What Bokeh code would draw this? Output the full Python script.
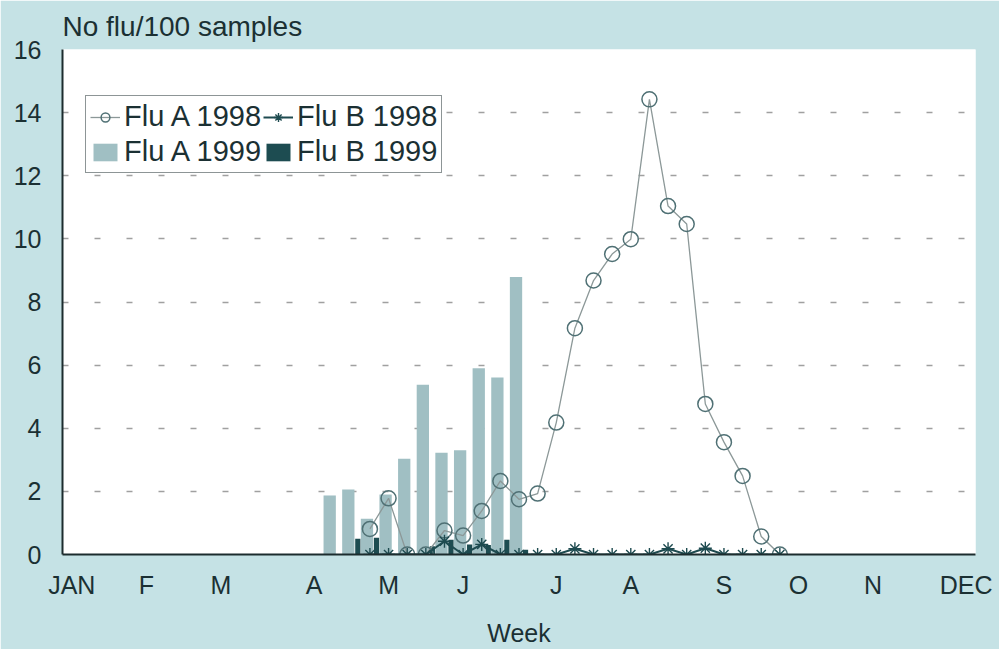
from bokeh.plotting import figure
from bokeh.models import Range1d, FixedTicker, Legend, LegendItem, ColumnDataSource
from bokeh.transform import dodge
from bokeh.embed import file_html
from bokeh.resources import INLINE

# ---- data (week index 0 = first week of January) ----
month_labels = ["JAN", "F", "M", "A", "M", "J", "J", "A", "S", "O", "N", "DEC"]
month_weeks = [0, 4, 8, 13, 17, 21, 26, 30, 35, 39, 43, 48]
n_weeks = 49

weeks_1998 = [16, 17, 18, 19, 20, 21, 22, 23, 24, 25, 26, 27, 28, 29, 30, 31,
              32, 33, 34, 35, 36, 37, 38]
flu_a_1998 = [0.81, 1.78, 0.0, 0.0, 0.76, 0.6, 1.38, 2.33, 1.75, 1.93, 4.18,
              7.17, 8.68, 9.52, 9.99, 14.42, 11.04, 10.47, 4.77, 3.56, 2.49,
              0.57, 0.0]
flu_b_1998 = [0.0, 0.0, 0.0, 0.0, 0.42, 0.0, 0.32, 0.0, 0.0, 0.0, 0.0, 0.18,
              0.0, 0.0, 0.0, 0.0, 0.18, 0.0, 0.2, 0.0, 0.0, 0.0, 0.0]

weeks_1999 = [14, 15, 16, 17, 18, 19, 20, 21, 22, 23, 24]
flu_a_1999 = [1.87, 2.06, 1.13, 1.9, 3.03, 5.38, 3.22, 3.3, 5.9, 5.61, 8.79]
flu_b_1999 = [0.0, 0.5, 0.53, 0.0, 0.0, 0.26, 0.47, 0.32, 0.3, 0.47, 0.15]

y_ticks = [0, 2, 4, 6, 8, 10, 12, 14, 16]

# ---- style ----
BG = "#c5e2e5"
TXT = "#1b3033"
AXIS = "#1c2c2e"
LIGHT = "#a0bfc3"
DARK = "#1d4c51"
FONT = "Liberation Sans"

src98 = ColumnDataSource(dict(week=weeks_1998, a=flu_a_1998, b=flu_b_1998))
src99 = ColumnDataSource(dict(week=weeks_1999, a=flu_a_1999, b=flu_b_1999))

p = figure(width=999, height=649,
           x_range=Range1d(0, n_weeks), y_range=Range1d(0, 16),
           output_backend="svg", toolbar_location=None,
           min_border_left=62, min_border_right=24,
           min_border_top=49, min_border_bottom=94,
           background_fill_color="white", border_fill_color=BG,
           outline_line_color=None)

p.title.text = "No flu/100 samples"
p.title.text_font = FONT
p.title.text_font_size = "28px"
p.title.text_font_style = "normal"
p.title.text_color = TXT
p.title.align = "left"
p.title.standoff = 15

# bars (1999)
ba = p.vbar(x=dodge("week", 0.34, range=p.x_range), top="a", width=0.66,
            source=src99, fill_color=LIGHT, line_color=None)
bb = p.vbar(x=dodge("week", 0.85, range=p.x_range), top="b", width=0.28,
            source=src99, fill_color=DARK, line_color=None)

# lines (1998)
la = p.line(x=dodge("week", 0.5, range=p.x_range), y="a", source=src98,
            line_color="#8c9898", line_width=1.3)
ma = p.scatter(x=dodge("week", 0.5, range=p.x_range), y="a", source=src98,
               marker="circle", size=15, fill_alpha=0,
               line_color="#4f7074", line_width=1.5)
lb = p.line(x=dodge("week", 0.5, range=p.x_range), y="b", source=src98,
            line_color="#1e4b50", line_width=2)
mb = p.scatter(x=dodge("week", 0.5, range=p.x_range), y="b", source=src98,
               marker="asterisk", size=13, line_color="#1e4b50", line_width=1.4)

# axes
p.xaxis.ticker = FixedTicker(ticks=[w + 0.5 for w in month_weeks])
p.xaxis.major_label_overrides = {w + 0.5: lab for w, lab in zip(month_weeks, month_labels)}
p.yaxis.ticker = FixedTicker(ticks=y_ticks)
p.xaxis.axis_label = "Week"
for ax in (p.xaxis, p.yaxis):
    ax.axis_line_color = AXIS
    ax.axis_line_width = 2
    ax.major_tick_line_color = None
    ax.minor_tick_line_color = None
    ax.major_label_text_font = FONT
    ax.major_label_text_font_size = "25px"
    ax.major_label_text_color = TXT
p.xaxis.major_label_standoff = 10
p.yaxis.major_label_standoff = 15
p.xaxis.axis_label_text_font = FONT
p.xaxis.axis_label_text_font_size = "25px"
p.xaxis.axis_label_text_font_style = "normal"
p.xaxis.axis_label_text_color = TXT
p.xaxis.axis_label_standoff = 17

p.xgrid.grid_line_color = None
p.ygrid.ticker = FixedTicker(ticks=y_ticks[1:])
p.ygrid.grid_line_color = "#a0a0a0"
p.ygrid.grid_line_width = 1.5
p.ygrid.grid_line_dash = "6 26"

legend = Legend(items=[
    LegendItem(label="Flu A 1998", renderers=[la, ma]),
    LegendItem(label="Flu B 1998", renderers=[lb, mb]),
    LegendItem(label="Flu A 1999", renderers=[ba]),
    LegendItem(label="Flu B 1999", renderers=[bb]),
], location=(23, 381), orientation="horizontal", ncols=2)
legend.label_text_font = FONT
legend.label_text_font_size = "29px"
legend.label_text_color = TXT
legend.label_standoff = 4
legend.glyph_width = 30
legend.glyph_height = 22
legend.padding = 4
legend.spacing = 2
legend.margin = 0
legend.border_line_color = AXIS
legend.border_line_width = 1.5
legend.background_fill_color = "white"
legend.background_fill_alpha = 1
p.add_layout(legend, "center")

open("out.html", "w").write(file_html(p, INLINE))
